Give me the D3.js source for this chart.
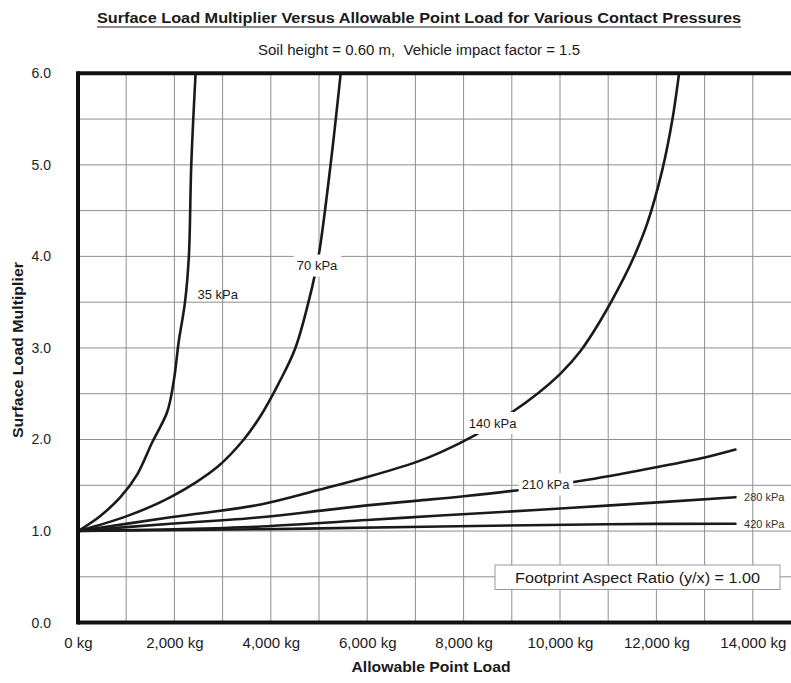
<!DOCTYPE html>
<html>
<head>
<meta charset="utf-8">
<script src="https://cdn.jsdelivr.net/npm/d3@7"></script>
<style>
  html, body { margin: 0; padding: 0; background: #fff; }
  svg { display: block; font-family: "Liberation Sans", Arial, sans-serif; }
  .pre { white-space: pre; }
</style>
</head>
<body>
<svg id="chart" width="791" height="683"></svg>
<script>
// Surface load multiplier vs allowable point load, one curve per contact pressure.
// Each point is [allowable point load (kg), surface load multiplier].
const pressures = ["35 kPa", "70 kPa", "140 kPa", "210 kPa", "280 kPa", "420 kPa"];

const curve35 = [[0,1.00],[450,1.16],[880,1.37],[1230,1.62],[1540,1.97],[1850,2.30],
  [1990,2.65],[2090,3.07],[2220,3.50],[2300,4.00],[2350,5.00],[2440,6.00]];
const curve70 = [[0,1.00],[1000,1.16],[1920,1.37],[2890,1.70],[3440,2.00],[3790,2.26],[4150,2.60],
  [4510,3.00],[4860,3.67],[5000,4.03],[5240,5.00],[5450,6.00]];
const curve140 = [[0,1.00],[1920,1.15],[3790,1.29],[5000,1.45],[6000,1.59],[7000,1.75],[7520,1.86],
  [8210,2.04],[9010,2.30],[9530,2.50],[10010,2.72],[10430,2.97],[10840,3.30],[11320,3.76],
  [11530,3.99],[11810,4.36],[12120,4.94],[12330,5.49],[12470,6.00]];
const curve210 = [[0,1.00],[1920,1.08],[3790,1.15],[5000,1.22],[6000,1.28],[7000,1.33],[8000,1.38],
  [9320,1.46],[10570,1.56],[12020,1.70],[13050,1.81],[13640,1.89]];
const curve280 = [[0,1.00],[2000,1.02],[3790,1.05],[6000,1.12],[7520,1.17],[9500,1.23],[11050,1.28],[13640,1.37]];
const curve420 = [[0,1.00],[3790,1.02],[7520,1.05],[10980,1.075],[13640,1.08]];

const curves = [curve35, curve70, curve140, curve210, curve280, curve420];

const xTicks = [0, 2000, 4000, 6000, 8000, 10000, 12000, 14000];
const yTicks = [0, 1, 2, 3, 4, 5, 6];
const xGrid = d3.range(0, 15001, 1000);
const yGrid = d3.range(0, 6.01, 0.5);

const titleText = "Surface Load Multiplier Versus Allowable Point Load for Various Contact Pressures";
const subtitleText = "Soil height = 0.60 m,  Vehicle impact factor = 1.5";
const xTitle = "Allowable Point Load";
const yTitle = "Surface Load Multiplier";
const noteText = "Footprint Aspect Ratio (y/x) = 1.00";

// ---- layout ----
const svg = d3.select("#chart");
const plot = { left: 78, top: 73.3, bottom: 622.6, right: 801 };

const x = d3.scaleLinear().domain([0, 15000]).range([plot.left, plot.right]);
const y = d3.scaleLinear().domain([0, 6]).range([plot.bottom, plot.top]);

// grid
const grid = svg.append("g").attr("stroke", "#8e8e8e").attr("stroke-width", 1);
grid.selectAll("line.v").data(xGrid).join("line")
  .attr("x1", d => x(d)).attr("x2", d => x(d))
  .attr("y1", y(6)).attr("y2", y(0));
grid.selectAll("line.h").data(yGrid).join("line")
  .attr("x1", x(0)).attr("x2", x(15000))
  .attr("y1", d => y(d)).attr("y2", d => y(d));

// axes (tick labels only; frame drawn separately)
const fmt = d3.format(",");
const xAxis = d3.axisBottom(x).tickValues(xTicks).tickSize(0).tickPadding(0)
  .tickFormat(d => fmt(d) + " kg");
svg.append("g").attr("transform", `translate(0,${plot.bottom + 25})`).call(xAxis)
  .call(g => g.select(".domain").remove())
  .selectAll("text").attr("font-size", 15).attr("fill", "#1a1a1a")
  .attr("font-family", "Liberation Sans, Arial, sans-serif").attr("dy", 0);

const yAxis = d3.axisLeft(y).tickValues(yTicks).tickSize(0).tickPadding(0)
  .tickFormat(d3.format(".1f"));
svg.append("g").attr("transform", `translate(${plot.left - 27},0)`).call(yAxis)
  .call(g => g.select(".domain").remove())
  .selectAll("text").attr("font-size", 14).attr("fill", "#222")
  .attr("font-family", "Liberation Sans, Arial, sans-serif");

// curves
const line = d3.line().curve(d3.curveCatmullRom.alpha(0.5)).x(d => x(d[0])).y(d => y(d[1]));
svg.append("g").selectAll("path").data(curves).join("path")
  .attr("d", line).attr("fill", "none")
  .attr("stroke", "#1a1a1a").attr("stroke-width", 2.6)
  .attr("stroke-linejoin", "round").attr("stroke-linecap", "round");

// frame: heavy left, top and bottom edges
const frame = svg.append("g").attr("stroke", "#111").attr("stroke-width", 4).attr("fill", "none");
frame.append("line").attr("x1", x(0)).attr("x2", 791).attr("y1", y(6)).attr("y2", y(6));
frame.append("line").attr("x1", x(0)).attr("x2", 791).attr("y1", y(0)).attr("y2", y(0));
frame.append("line").attr("x1", x(0)).attr("x2", x(0)).attr("y1", y(6) - 2).attr("y2", y(0) + 2);

// curve labels, placed in data coordinates, with knock-out backgrounds
const labelSpots = [
  { at: [2900, 3.58], size: 13, fill: "#1a1a1a", bg: false, anchor: "middle" },
  { at: [4960, 3.90], size: 13, fill: "#1a1a1a", bg: true,  anchor: "middle" },
  { at: [8600, 2.18], size: 13, fill: "#1a1a1a", bg: true,  anchor: "middle" },
  { at: [9700, 1.51], size: 13, fill: "#1a1a1a", bg: true,  anchor: "middle" },
  { at: [13820, 1.37], size: 11, fill: "#333", bg: false, anchor: "start" },
  { at: [13820, 1.08], size: 11, fill: "#333", bg: false, anchor: "start" }
];
const labels = svg.append("g");
pressures.forEach((name, i) => {
  const s = labelSpots[i];
  const g = labels.append("g").attr("transform", `translate(${x(s.at[0])},${y(s.at[1])})`);
  const t = g.append("text").text(name)
    .attr("font-size", s.size).attr("fill", s.fill)
    .attr("text-anchor", s.anchor).attr("dy", "0.35em");
  if (s.bg) {
    const b = t.node().getBBox();
    g.insert("rect", "text")
      .attr("x", b.x - 3).attr("y", -11).attr("width", b.width + 6).attr("height", 22)
      .attr("fill", "#fff");
  }
});

// note box
const note = svg.append("g");
note.append("rect").attr("x", 495).attr("y", 565).attr("width", 285).attr("height", 24.5)
  .attr("fill", "#fff").attr("stroke", "#9a9a9a").attr("stroke-width", 1);
note.append("text").text(noteText).attr("x", 637.5).attr("y", 582.5)
  .attr("text-anchor", "middle").attr("font-size", 15.5).attr("fill", "#1a1a1a")
  .attr("textLength", 245).attr("lengthAdjust", "spacingAndGlyphs");

// titles
svg.append("text").text(titleText).attr("x", 419).attr("y", 23)
  .attr("text-anchor", "middle").attr("font-size", 14).attr("font-weight", "bold")
  .attr("fill", "#1a1a1a").attr("textLength", 644).attr("lengthAdjust", "spacingAndGlyphs");
svg.append("line").attr("x1", 97).attr("x2", 741).attr("y1", 27).attr("y2", 27)
  .attr("stroke", "#1a1a1a").attr("stroke-width", 1.2);
svg.append("text").attr("class", "pre").text(subtitleText).attr("x", 419).attr("y", 55)
  .attr("text-anchor", "middle").attr("font-size", 14).attr("fill", "#1a1a1a")
  .attr("textLength", 322).attr("lengthAdjust", "spacingAndGlyphs");

svg.append("text").text(xTitle).attr("x", 431).attr("y", 672)
  .attr("text-anchor", "middle").attr("font-size", 14).attr("font-weight", "bold")
  .attr("fill", "#1a1a1a").attr("textLength", 159).attr("lengthAdjust", "spacingAndGlyphs");
svg.append("text").text(yTitle)
  .attr("transform", "translate(23,350) rotate(-90)")
  .attr("text-anchor", "middle").attr("font-size", 14).attr("font-weight", "bold")
  .attr("fill", "#1a1a1a").attr("textLength", 176).attr("lengthAdjust", "spacingAndGlyphs");
</script>
</body>
</html>
